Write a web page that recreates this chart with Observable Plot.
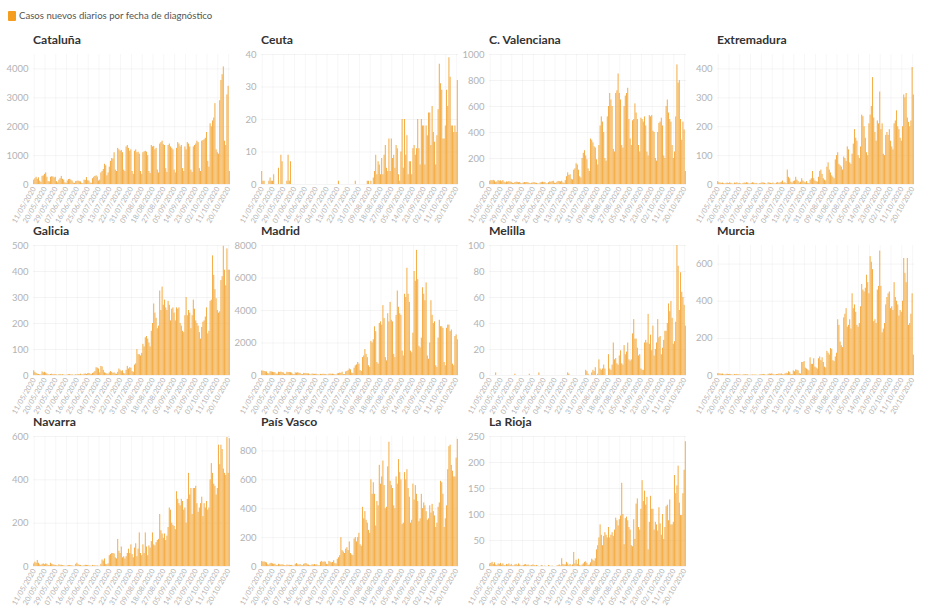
<!DOCTYPE html>
<html><head><meta charset="utf-8">
<script src="https://cdn.jsdelivr.net/npm/d3@7"></script>
<script src="https://cdn.jsdelivr.net/npm/@observablehq/plot@0.6"></script>
<style>
body{margin:0;background:#fff;font-family:Lato,"Open Sans",sans-serif;}
#root{position:relative;width:933px;height:613px;overflow:hidden}
.title{position:absolute;font-weight:700;font-size:12.2px;color:#333;white-space:nowrap;line-height:16px}
.panel{position:absolute}
#legend{position:absolute;left:8px;top:10px;font-size:9.6px;color:#555;display:flex;align-items:center;white-space:nowrap}
#legend span.sw{display:inline-block;width:8px;height:10px;background:#f49d1f;border-radius:1px;margin-right:3px}
#err{position:absolute;left:600px;top:520px;color:red;font-size:10px}
</style></head>
<body><div id="root"><div id="legend"><span class="sw"></span>Casos nuevos diarios por fecha de diagnóstico</div><div id="err"></div></div>
<script>
// Daily new cases by diagnosis date, 11/05/2020 – 21/10/2020 (one row per week, Mon..Sun)
const startDate = "2020-05-11";
const nDays = 164;
const xTickLabels = ["11/05/2020","20/05/2020","29/05/2020","07/06/2020","16/06/2020","25/06/2020","04/07/2020","13/07/2020","22/07/2020","31/07/2020","09/08/2020","18/08/2020","27/08/2020","05/09/2020","14/09/2020","23/09/2020","02/10/2020","11/10/2020","20/10/2020"];

const regions = ["Cataluña","Ceuta","C. Valenciana","Extremadura","Galicia","Madrid","Melilla","Murcia","Navarra","País Vasco","La Rioja"];

const cataluna = [
150,200,250,180,230,120,80,
280,300,350,400,250,100,90,
250,270,260,230,250,100,60,
150,200,280,180,150,60,40,
120,170,180,150,120,50,40,
100,110,120,100,90,40,30,
150,140,240,130,120,50,40,
200,250,280,300,260,120,150,
400,450,520,700,650,300,400,
600,800,900,880,1100,500,450,
1250,1200,1150,1180,1100,500,450,
1300,1350,1250,1150,1200,450,350,
1150,1200,1100,1120,1050,450,350,
1100,1130,1150,1120,1000,450,380,
1350,1300,1320,1200,1250,500,400,
1400,1450,1500,1380,1350,550,420,
1350,1400,1300,1250,1200,500,400,
1250,1450,1400,1300,1350,550,450,
1300,1200,1450,1400,1300,500,420,
1300,1350,1400,1500,1450,550,450,
1500,1520,1550,1600,1800,800,600,
2100,2000,2200,2300,2800,1200,1100,
1050,2900,3600,3800,4070,1500,1350,
3100,3400,450];

const ceuta = [
4,1,1,0,0,0,1,
2,1,1,3,0,0,0,
5,0,9,7,0,0,0,
1,9,1,7,0,0,0,
0,0,0,0,0,0,0,
0,0,0,0,0,0,0,
0,0,0,0,0,0,0,
0,0,0,0,0,0,0,
0,0,0,0,0,0,0,
0,1,0,0,0,0,0,
0,0,0,0,0,0,0,
0,1,0,0,0,0,0,
0,0,0,0,1,1,0,
1,0,2,4,9,3,7,
6,3,8,3,9,12,5,
4,14,4,14,8,9,5,
12,11,3,1,10,20,5,
20,9,15,3,7,7,3,
11,12,9,11,20,11,6,
20,18,18,6,18,15,22,
22,12,24,16,13,6,15,
23,37,31,29,14,14,18,
29,24,39,33,18,18,16,
18,16,32];

const valenciana = [
25,30,28,32,27,15,20,
30,25,28,22,30,18,12,
20,18,22,19,17,10,8,
15,18,17,14,16,8,6,
12,15,14,16,13,7,5,
10,12,14,11,9,5,4,
12,15,18,14,16,6,5,
14,20,18,22,25,10,8,
18,24,22,20,25,12,10,
30,60,90,70,75,40,35,
110,120,160,150,110,60,50,
200,240,260,220,190,120,100,
350,340,320,290,280,190,150,
300,450,520,480,400,200,180,
520,600,700,650,600,270,250,
700,720,850,700,650,300,280,
600,680,700,740,500,350,300,
490,500,620,550,500,300,250,
510,500,480,520,450,250,220,
530,520,530,410,400,200,180,
400,470,480,510,450,220,200,
600,650,550,500,480,300,200,
250,520,920,780,800,500,340,
480,420,100];

const extremadura = [
10,6,5,4,5,3,2,
4,5,3,6,4,2,1,
5,4,6,3,4,2,1,
3,5,4,6,5,2,2,
4,6,5,3,4,2,1,
3,4,6,5,4,2,1,
6,5,4,3,5,2,2,
5,7,4,6,8,12,5,
6,3,50,25,20,8,5,
10,12,25,15,10,5,8,
20,12,8,5,10,4,3,
15,20,45,20,12,10,8,
25,45,50,35,20,15,12,
60,75,50,40,30,25,20,
85,100,110,70,65,60,50,
95,90,80,130,120,75,70,
105,140,190,160,150,100,90,
130,240,235,200,160,110,100,
210,240,270,370,230,180,150,
220,210,320,190,210,105,100,
170,180,170,190,150,130,120,
210,220,255,200,190,160,150,
200,310,300,315,230,215,200,
220,405,310];

const galicia = [
18,12,8,5,4,3,2,
14,10,12,9,6,3,2,
4,5,3,4,3,2,1,
3,4,2,3,2,1,1,
2,3,4,2,3,1,1,
3,2,4,3,5,2,3,
5,6,4,7,8,5,4,
8,10,15,30,28,25,10,
35,33,20,10,8,6,5,
10,15,12,8,10,6,5,
12,25,20,15,18,8,6,
20,35,25,30,28,15,12,
40,45,100,80,80,75,85,
120,110,145,150,140,125,110,
170,200,275,240,220,180,190,
325,250,340,270,290,260,250,
285,270,210,255,260,240,210,
260,255,260,200,190,170,165,
230,300,230,250,240,180,230,
290,255,210,200,190,165,140,
185,205,210,225,260,160,170,
285,290,460,385,330,295,250,
240,245,365,380,497,405,345,
487,405,405];

const madrid = [
280,270,250,230,220,120,100,
230,220,200,180,170,90,80,
200,190,210,180,160,80,70,
200,180,190,170,150,70,60,
160,150,170,140,130,60,50,
130,120,110,100,100,50,40,
90,80,70,80,60,40,30,
70,60,80,70,60,30,30,
80,90,70,80,70,40,30,
100,120,150,130,200,60,50,
220,250,300,400,350,150,120,
450,600,650,800,700,300,250,
1100,1200,1600,1300,1100,600,500,
2100,2000,2200,3000,2700,800,700,
3200,3300,3100,4300,3500,1100,900,
3800,3300,4500,3400,3300,1300,1100,
3700,5200,4200,3800,3700,1500,1200,
5000,4800,6600,5000,4500,1500,1400,
2600,6400,5800,7700,5900,1800,1700,
2300,5400,5000,4600,5700,1200,1000,
2000,4600,3700,3200,3300,600,500,
2300,3400,3000,3000,2900,800,600,
2900,3100,3100,2700,2800,700,600,
2400,2500,2200];

const melilla = [
0,0,0,0,0,2,0,
0,0,0,0,0,0,0,
0,0,0,0,0,0,0,
1,0,0,0,0,0,0,
0,0,0,0,0,1,0,
0,0,0,0,0,0,2,
0,0,0,0,0,0,0,
0,0,0,0,0,0,0,
0,0,0,0,0,0,0,
0,0,2,1,0,0,0,
0,0,0,0,0,0,0,
0,0,0,4,3,1,0,
0,2,4,3,6,0,1,
12,5,4,5,8,5,0,
0,16,5,4,8,25,12,
13,9,8,15,19,9,8,
23,16,18,25,12,11,12,
32,43,28,28,21,15,16,
5,4,4,25,27,25,47,
24,31,19,38,15,20,25,
43,29,30,16,21,27,34,
34,40,55,49,57,44,24,
26,41,100,84,50,79,64,
60,54,38];

const murcia = [
10,9,8,7,8,4,3,
6,7,5,6,5,2,2,
5,4,6,4,3,2,1,
3,4,5,3,4,1,1,
2,3,2,3,2,1,1,
3,4,5,6,4,2,2,
6,8,7,9,6,3,3,
5,6,8,7,9,4,3,
8,12,10,20,15,6,5,
25,20,30,28,25,10,8,
70,70,75,40,35,30,25,
95,60,60,90,45,40,35,
90,100,80,95,70,45,40,
130,120,110,145,140,80,75,
100,120,300,270,180,160,150,
310,330,360,260,270,300,250,
440,360,380,340,270,260,280,
370,490,460,450,470,540,500,
440,640,610,570,290,300,280,
460,480,670,480,230,250,280,
380,420,440,450,360,370,350,
500,420,400,380,320,350,340,
400,630,550,500,630,270,280,
330,440,110];

const navarra = [
12,20,15,28,15,8,5,
10,12,8,12,10,5,4,
15,10,8,6,5,3,2,
8,5,6,4,3,2,1,
3,4,5,4,3,1,1,
10,15,8,6,5,2,2,
4,6,5,5,3,2,1,
5,3,4,2,3,1,1,
10,30,25,35,10,8,12,
50,55,60,60,58,40,35,
125,70,60,90,40,45,35,
45,60,80,60,100,55,40,
85,105,45,80,155,60,50,
100,60,155,90,50,95,85,
115,155,100,95,110,120,125,
240,165,150,130,150,120,140,
180,270,260,200,190,185,170,
345,310,290,280,310,300,260,
270,200,310,430,330,360,240,
360,360,370,290,250,270,290,
320,230,290,270,300,260,270,
400,475,430,380,370,330,360,
560,470,560,540,450,430,420,
595,430,590];

const paisVasco = [
35,30,32,28,25,12,10,
20,22,18,15,16,8,6,
15,12,10,12,9,5,4,
10,8,9,7,8,4,3,
15,20,12,10,14,6,5,
15,18,20,12,10,6,5,
12,10,14,9,12,5,5,
30,35,28,32,30,15,12,
35,30,25,28,40,20,18,
50,60,75,200,110,100,90,
120,130,110,170,90,80,75,
190,200,170,200,230,150,140,
410,330,380,320,300,250,230,
600,500,580,500,280,450,420,
700,570,620,730,560,400,410,
690,860,590,560,540,420,400,
620,570,740,650,600,290,300,
650,600,670,540,480,300,320,
570,460,560,500,450,310,330,
500,400,440,420,380,320,330,
420,370,430,380,350,270,300,
410,440,590,580,500,270,330,
420,670,830,840,700,660,620,
620,750,880];

const laRioja = [
5,6,8,4,7,3,2,
5,4,6,3,5,2,1,
4,3,5,2,4,1,1,
3,4,2,5,3,1,1,
2,3,4,2,3,1,1,
2,3,2,1,2,1,0,
0,2,1,0,1,0,0,
2,1,0,1,0,0,0,
1,2,3,1,15,4,3,
3,8,5,2,4,1,3,
27,5,12,4,14,2,1,
3,5,8,9,6,2,3,
7,14,12,10,15,32,40,
55,80,60,40,58,65,60,
55,75,55,60,65,58,70,
93,88,78,90,97,160,100,
42,92,95,88,75,70,40,
38,90,52,120,130,75,70,
110,165,125,145,118,133,32,
85,135,110,110,70,85,80,
68,113,82,60,100,52,75,
115,118,88,128,80,80,85,
175,140,155,193,122,98,98,
140,185,240];

const series = [cataluna, ceuta, valenciana, extremadura, galicia, madrid, melilla, murcia, navarra, paisVasco, laRioja];
const yMax   = [4500, 40, 1000, 450, 500, 8000, 100, 700, 600, 900, 250];
const yStep  = [1000, 10, 200, 100, 100, 2000, 20, 200, 200, 200, 50];

const fmt = d3.utcFormat("%d/%m/%Y");
const d0 = new Date(startDate + "T00:00:00Z");
const dates = d3.range(nDays).map(i => fmt(d3.utcDay.offset(d0, i)));

const root = document.getElementById("root");
const errs = [];
regions.forEach((name, k) => {
  const vals = series[k];
  if (vals.length !== nDays) errs.push(name + ":" + vals.length);
  const rows = dates.map((d, i) => ({date: d, value: vals[i] ?? 0}));
  const col = k % 4, row = Math.floor(k / 4);
  const yTicks = d3.range(0, yMax[k] + 1e-9, yStep[k]);
  const t = document.createElement("div");
  t.className = "title";
  t.style.left = (col * 228 + 33) + "px";
  t.style.top = (32 + row * 191) + "px";
  t.textContent = name;
  root.appendChild(t);
  const chart = Plot.plot({
    width: 232, height: 190,
    marginTop: 9, marginBottom: 51, marginLeft: 33, marginRight: 2,
    style: {fontFamily: "Lato, 'Open Sans', sans-serif", background: "transparent", overflow: "visible"},
    x: {type: "band", domain: dates, padding: 0.12, axis: null},
    y: {domain: [0, yMax[k]], axis: null},
    marks: [
      Plot.gridY(yTicks, {stroke: "#000", strokeOpacity: 0.045}),
      Plot.gridX(xTickLabels, {stroke: "#000", strokeOpacity: 0.035}),
      Plot.barY(rows, {x: "date", y: "value", fill: "#f3a93e", fillOpacity: 0.92}),
      Plot.axisY(yTicks, {tickSize: 0, tickPadding: 5, fontSize: 9.5, color: "#b3b3b3", label: null, tickFormat: d => String(d)}),
      Plot.axisX(xTickLabels, {tickSize: 0, tickPadding: 3, tickRotate: -60, fontSize: 7.3, color: "#b3b3b3", label: null})
    ]
  });
  const wrap = document.createElement("div");
  wrap.className = "panel";
  wrap.style.left = (col * 228) + "px";
  wrap.style.top = (45 + row * 191) + "px";
  wrap.appendChild(chart);
  root.appendChild(wrap);
});
if (errs.length) document.getElementById("err").textContent = "LEN " + errs.join(" ");
</script>
</body></html>
